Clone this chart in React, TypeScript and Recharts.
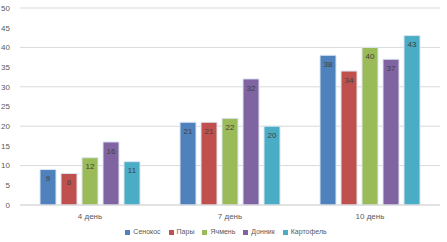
import { Bar, BarChart, CartesianGrid, LabelList, Legend, XAxis, YAxis } from "recharts";

const days = ["4 день", "7 день", "10 день"];
const senokos = [9, 21, 38];
const pary = [8, 21, 34];
const yachmen = [12, 22, 40];
const donnik = [16, 32, 37];
const kartofel = [11, 20, 43];
const yTicks = [0, 5, 10, 15, 20, 25, 30, 35, 40, 45, 50];

const series = [
  { key: "senokos", name: "Сенокос", color: "#4F81BD", values: senokos },
  { key: "pary", name: "Пары", color: "#C0504D", values: pary },
  { key: "yachmen", name: "Ячмень", color: "#9BBB59", values: yachmen },
  { key: "donnik", name: "Донник", color: "#8064A2", values: donnik },
  { key: "kartofel", name: "Картофель", color: "#4BACC6", values: kartofel },
];

const data = days.map((d, i) => {
  const row: Record<string, string | number> = { day: d };
  series.forEach((s) => (row[s.key] = s.values[i]));
  return row;
});

const font = "'Liberation Sans', Arial, sans-serif";

function LegendRow() {
  return (
    <div style={{ display: "flex", justifyContent: "center", alignItems: "center", fontSize: 7, color: "#595959", lineHeight: "10px", paddingLeft: 12 }}>
      {series.map((s, i) => (
        <span key={s.key} style={{ display: "inline-flex", alignItems: "center", marginLeft: i ? 8 : 0 }}>
          <span style={{ width: 5, height: 5, background: s.color, display: "inline-block", marginRight: 3 }} />
          {s.name}
        </span>
      ))}
    </div>
  );
}

export default function App() {
  return (
    <div style={{ position: "absolute", left: 0, top: 0, width: 447, height: 242, background: "#fff", fontFamily: font }}>
      <BarChart
        width={447}
        height={242}
        data={data}
        margin={{ top: 8, right: 7, left: 0, bottom: 2 }}
        barSize={16}
        barGap={5}
      >
        <CartesianGrid vertical={false} stroke="#d9d9d9" />
        <XAxis
          dataKey="day"
          tickLine={false}
          axisLine={{ stroke: "#d9d9d9" }}
          tick={{ fontSize: 8, fill: "#595959" }}
          height={22}
        />
        <YAxis
          domain={[0, 50]}
          ticks={yTicks}
          width={20}
          tickLine={false}
          axisLine={false}
          tick={{ fontSize: 8, fill: "#595959" }}
          tickMargin={4}
        />
        <Legend verticalAlign="bottom" height={13} content={() => <LegendRow />} />
        {series.map((s) => (
          <Bar key={s.key} dataKey={s.key} name={s.name} fill={s.color} stroke="#dce6f2" strokeWidth={1} isAnimationActive={false}>
            <LabelList dataKey={s.key} position="insideTop" offset={6} style={{ fontSize: 8, fill: "#404040" }} />
          </Bar>
        ))}
      </BarChart>
    </div>
  );
}
